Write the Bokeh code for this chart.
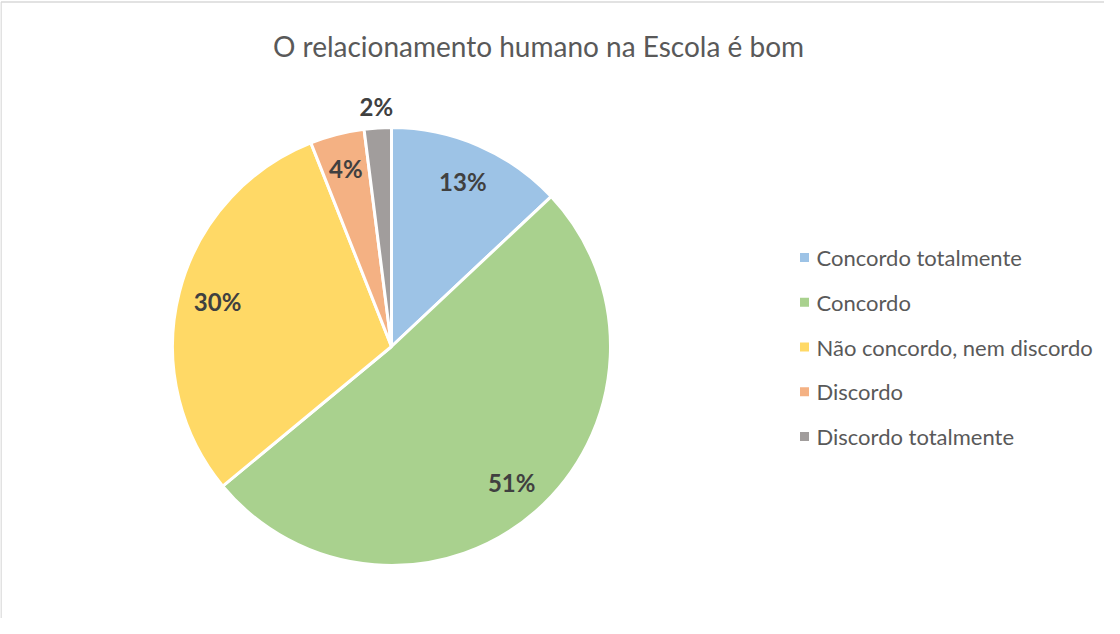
import numpy as np
from bokeh.plotting import figure
from bokeh.models import Range1d, ColumnDataSource
from bokeh.core.properties import value
from bokeh.embed import file_html
from bokeh.resources import INLINE

# ---- data ----
title_text = "O relacionamento humano na Escola é bom"
categories = ["Concordo totalmente", "Concordo", "Não concordo, nem discordo",
              "Discordo", "Discordo totalmente"]
percent = [13, 51, 30, 4, 2]
labels = ["13%", "51%", "30%", "4%", "2%"]

# ---- style ----
colors = ["#9DC3E6", "#A9D18E", "#FFD966", "#F4B183", "#A19D9C"]
label_radius_frac = [0.82, 0.83, 0.82, 0.84, 1.10]
FONT = "Lato"

W, H = 1104, 618
cx, cy, R = 391, 272, 219

p = figure(width=W, height=H, output_backend="svg", toolbar_location=None,
           x_range=Range1d(0, W), y_range=Range1d(0, H), min_border=0,
           tools="")
p.axis.visible = False
p.grid.visible = False
p.outline_line_color = None
p.background_fill_color = "white"
p.border_fill_color = "white"

# chart border (left & top visible in reference)
p.segment(x0=[0.5, 0.5], y0=[0, H - 1.5], x1=[0.5, W], y1=[H - 1.5, H - 1.5],
          line_color="#D9D9D9", line_width=1.5)

vals = np.array(percent, dtype=float)
frac = vals / vals.sum()
cum1 = np.cumsum(frac)
cum0 = cum1 - frac
start = np.pi / 2 - 2 * np.pi * cum0
end = np.pi / 2 - 2 * np.pi * cum1
mid = (start + end) / 2

src = ColumnDataSource(dict(start=start, end=end, color=colors, cat=categories))
p.wedge(x=cx, y=cy, radius=R, start_angle="start", end_angle="end",
        direction="clock", fill_color="color", line_color="white",
        line_width=3, source=src)

lr = np.array(label_radius_frac) * R
lsrc = ColumnDataSource(dict(x=cx + lr * np.cos(mid), y=cy + lr * np.sin(mid), t=labels))
p.text(x="x", y="y", text="t", source=lsrc, text_align="center",
       text_baseline="middle", text_font=value(FONT), text_font_style="bold",
       text_font_size="24px", text_color="#404040")

# title
p.text(x=[538], y=[H - 45], text=[title_text], text_align="center",
       text_baseline="middle", text_font=value(FONT), text_font_size="28px",
       text_color="#595959")

# legend
n = len(categories)
ly = 361 - 44.75 * np.arange(n)
legsrc = ColumnDataSource(dict(x=[804] * n, tx=[816] * n, y=ly, color=colors, cat=categories))
p.scatter(x="x", y="y", source=legsrc, marker="square", size=9,
          fill_color="color", line_color=None)
p.text(x="tx", y="y", text="cat", source=legsrc, text_align="left",
       text_baseline="middle", text_font=value(FONT), text_font_size="22px",
       text_color="#595959")

open("out.html", "w").write(file_html(p, INLINE))
